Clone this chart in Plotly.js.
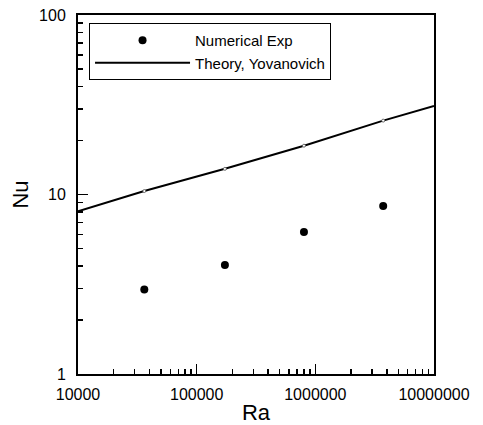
<!DOCTYPE html>
<html>
<head>
<meta charset="utf-8">
<script src="https://cdn.plot.ly/plotly-3.0.1.min.js"></script>
<style>html,body{margin:0;padding:0;background:#fff;}#chart{width:483px;height:425px;}</style>
</head>
<body>
<div id="chart"></div>
<script>
// Numerical experiment points
const raExp = [36200, 173000, 802000, 3730000];
const nuExp = [2.96, 4.05, 6.18, 8.63];
// Theory (Yovanovich) curve
const raTheory = [10000, 36200, 173000, 802000, 3730000, 10000000];
const nuTheory = [8.06, 10.45, 13.9, 18.7, 25.8, 31.1];
// Small open markers on the theory line
const raTheoryPts = [36200, 173000, 802000, 3730000];
const nuTheoryPts = [10.45, 13.9, 18.7, 25.8];

const xTickVals = [10000, 100000, 1000000, 10000000];
const xTickText = ['10000', '100000', '1000000', '10000000'];
const yTickVals = [1, 10, 100];
const yTickText = ['1', '10', '100'];

const font = 'Arial, "Liberation Sans", Helvetica, sans-serif';

const traces = [
  {
    x: raExp, y: nuExp, type: 'scatter', mode: 'markers',
    name: 'Numerical Exp',
    marker: {color: '#000', size: 8, symbol: 'circle'}
  },
  {
    x: raTheory, y: nuTheory, type: 'scatter', mode: 'lines',
    name: 'Theory, Yovanovich',
    line: {color: '#000', width: 2}
  },
  {
    x: raTheoryPts, y: nuTheoryPts, type: 'scatter', mode: 'markers',
    showlegend: false,
    marker: {color: '#fff', size: 3, symbol: 'circle', line: {color: '#555', width: 0.8}}
  }
];

const axisCommon = {
  type: 'log',
  showgrid: false,
  zeroline: false,
  showline: true,
  linecolor: '#000',
  linewidth: 2,
  mirror: true,
  ticks: 'inside',
  ticklen: 10,
  tickwidth: 1.5,
  tickcolor: '#000',
  tickfont: {family: font, size: 16, color: '#000'},
  minor: {ticks: 'inside', ticklen: 5, tickwidth: 1.5, tickcolor: '#000', dtick: 'D1', showgrid: false}
};

const layout = {
  width: 483, height: 425,
  margin: {l: 78, r: 49, t: 15, b: 51},
  paper_bgcolor: '#fff', plot_bgcolor: '#fff',
  font: {family: font, color: '#000'},
  showlegend: true,
  legend: {
    x: 0.031, y: 0.978, xanchor: 'left', yanchor: 'top',
    bgcolor: '#fff', bordercolor: '#000', borderwidth: 1,
    font: {family: font, size: 15, color: '#000'},
    itemwidth: 95,
    entrywidth: 245,
    tracegroupgap: 0
  },
  xaxis: Object.assign({}, axisCommon, {
    range: [4, 7],
    tickvals: xTickVals, ticktext: xTickText,
    ticklabelstandoff: 5,
    title: {text: 'Ra', font: {family: font, size: 22, color: '#000'}, standoff: 2}
  }),
  yaxis: Object.assign({}, axisCommon, {
    range: [0, 2],
    tickvals: yTickVals, ticktext: yTickText,
    ticklabelstandoff: 7,
    title: {text: 'Nu', font: {family: font, size: 22, color: '#000'}, standoff: 4}
  })
};

Plotly.newPlot('chart', traces, layout, {staticPlot: true});
</script>
</body>
</html>
